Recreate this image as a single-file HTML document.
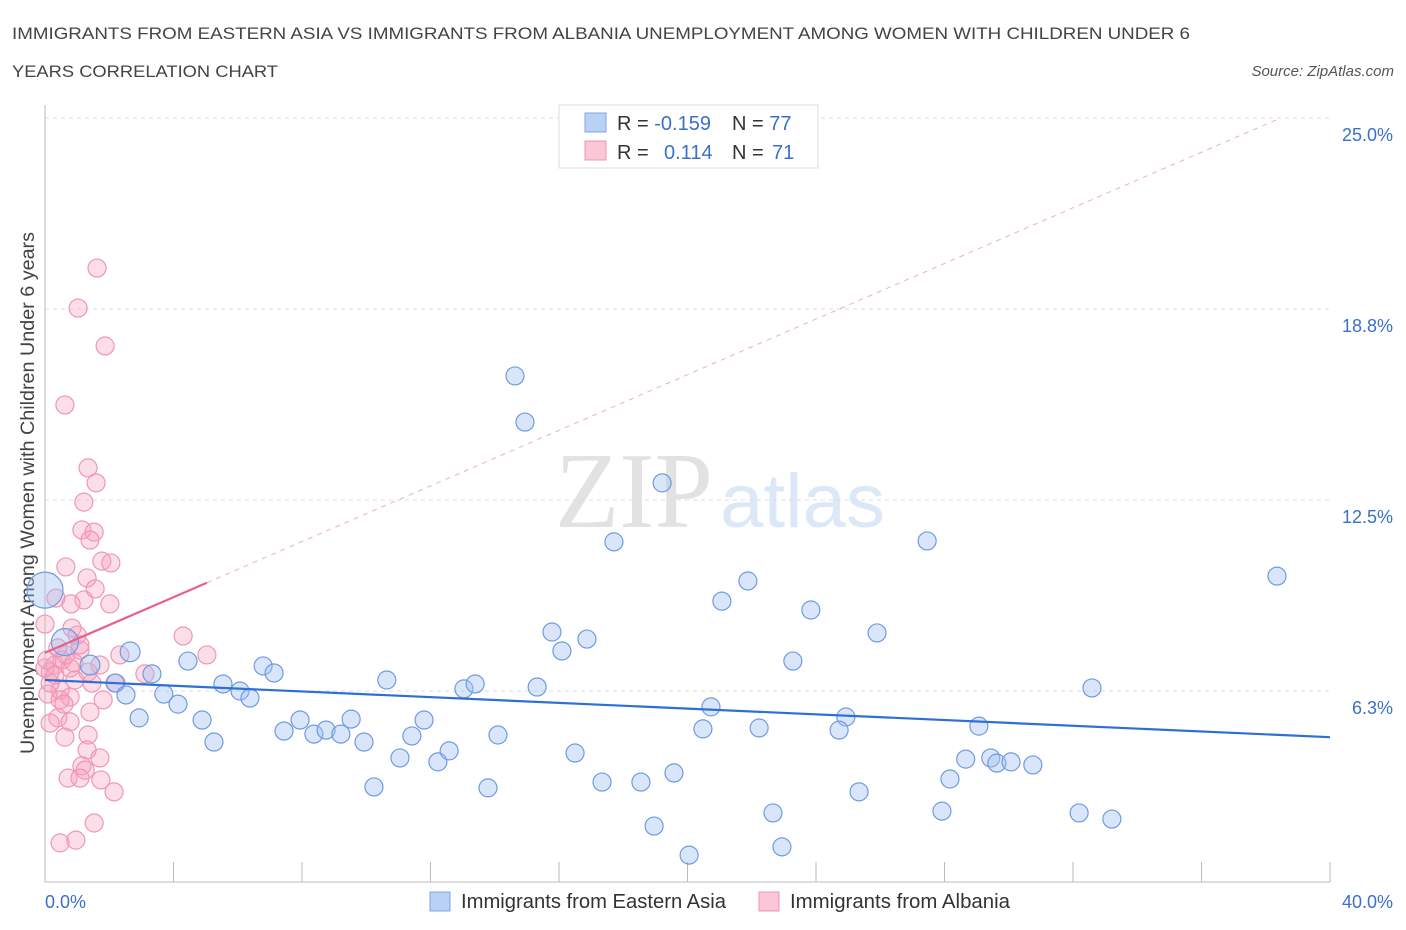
<!DOCTYPE html>
<html><head><meta charset="utf-8"><style>
body{margin:0;background:#fff;font-family:"Liberation Sans",sans-serif;}
#wrap{position:relative;width:1406px;height:930px;overflow:hidden;}
</style></head><body>
<div id="wrap">
<svg id="svg" width="1406" height="930" xmlns="http://www.w3.org/2000/svg">
<text x="12" y="39" font-size="17" fill="#444" textLength="1178" lengthAdjust="spacingAndGlyphs">IMMIGRANTS FROM EASTERN ASIA VS IMMIGRANTS FROM ALBANIA UNEMPLOYMENT AMONG WOMEN WITH CHILDREN UNDER 6</text>
<text x="12" y="77" font-size="17" fill="#444" textLength="266" lengthAdjust="spacingAndGlyphs">YEARS CORRELATION CHART</text>
<text x="1394" y="76" font-size="15" fill="#555" font-style="italic" text-anchor="end">Source: ZipAtlas.com</text>
<text x="555" y="527" font-size="108" fill="#e2e2e2" font-family="Liberation Serif,serif" textLength="158" lengthAdjust="spacingAndGlyphs">ZIP</text>
<text x="720" y="527" font-size="76" fill="#dce8f7" textLength="165" lengthAdjust="spacingAndGlyphs">atlas</text>
<text transform="translate(34,493) rotate(-90)" font-size="19" fill="#444" text-anchor="middle" textLength="522" lengthAdjust="spacingAndGlyphs">Unemployment Among Women with Children Under 6 years</text>
<g id="grid"></g><g id="pts"></g><g id="lines"></g>
<g>
<rect x="559" y="105" width="259" height="63" fill="#fff" stroke="#ddd"/>
<rect x="585" y="113" width="21" height="19" fill="#b8d1f5" stroke="#7fa6e6"/>
<rect x="585" y="141" width="21" height="19" fill="#fbc6d6" stroke="#ef94b2"/>
<text x="617" y="130" font-size="20" fill="#333">R = <tspan fill="#3a70c8">-0.159</tspan></text>
<text x="732" y="130" font-size="20" fill="#333">N = <tspan fill="#3a70c8">77</tspan></text>
<text x="617" y="159" font-size="20" fill="#333">R = <tspan fill="#3a70c8" x="664">0.114</tspan></text>
<text x="732" y="159" font-size="20" fill="#333">N = <tspan fill="#3a70c8" x="772">71</tspan></text>
</g>
<g>
<rect x="430" y="892" width="20" height="19" fill="#b8d1f5" stroke="#7fa6e6"/>
<text x="461" y="908" font-size="20" fill="#333" textLength="265" lengthAdjust="spacingAndGlyphs">Immigrants from Eastern Asia</text>
<rect x="759" y="892" width="20" height="19" fill="#fbc6d6" stroke="#ef94b2"/>
<text x="790" y="908" font-size="20" fill="#333" textLength="220" lengthAdjust="spacingAndGlyphs">Immigrants from Albania</text>
</g>
<text x="45" y="908" font-size="18" fill="#3a70c8">0.0%</text>
<text x="1393" y="908" font-size="18" fill="#3a70c8" text-anchor="end">40.0%</text>
</svg>
</div>
<script>
const yTicks=[6.25,12.5,18.75,25];
const yTickLabels=["6.3%","12.5%","18.8%","25.0%"];
const xTicks=[0,4,8,12,16,20,24,28,32,36,40];
const blueX=[14.63,14.94,19.21,17.71,27.46,38.35,21.88,21.07,23.84,25.90,15.78,16.87,16.09,23.28,0,0.62,2.65,1.40,4.45,3.33,6.79,7.13,2.18,2.52,5.54,6.07,6.38,3.70,4.14,2.93,4.89,5.26,7.44,7.94,8.37,8.75,9.21,9.53,9.93,10.64,10.24,11.05,11.42,11.80,12.23,12.58,13.04,13.39,14.10,13.79,15.32,16.50,17.34,18.55,18.96,19.58,20.05,20.73,20.48,22.23,22.66,22.94,24.93,24.72,25.34,27.92,28.17,28.66,29.07,29.44,29.63,30.07,30.75,32.59,32.19,33.21];
const blueY=[16.56,15.05,13.06,11.13,11.16,10.01,9.85,9.19,8.90,8.15,8.18,7.95,7.56,7.23,9.55,7.85,7.53,7.10,7.23,6.81,7.07,6.84,6.51,6.12,6.48,6.25,6.02,6.15,5.82,5.37,5.30,4.58,4.94,5.30,4.84,4.97,4.84,5.33,4.58,6.61,3.11,4.06,4.78,5.30,3.93,4.29,6.32,6.48,4.81,3.08,6.38,4.22,3.27,3.27,1.83,3.57,0.88,5.73,5.01,5.04,2.26,1.15,5.40,4.97,2.95,2.32,3.37,4.02,5.10,4.06,3.89,3.93,3.83,6.35,2.26,2.06];
const blueSize=[1,1,1,1,1,1,1,1,1,1,1,1,1,1,2,1.5,1.1,1.1,1,1,1,1,1,1,1,1,1,1,1,1,1,1,1,1,1,1,1,1,1,1,1,1,1,1,1,1,1,1,1,1,1,1,1,1,1,1,1,1,1,1,1,1,1,1,1,1,1,1,1,1,1,1,1,1,1,1];
const pinkX=[1.62,1.03,1.87,0.62,1.34,1.59,1.21,1.15,1.53,1.40,0.65,1.77,2.05,1.31,0.34,1.56,1.21,2.02,0.81,0,0.84,1.00,4.30,2.33,5.04,3.11,1.09,0.53,0.31,0.78,0.16,1.34,0.93,0.47,1.46,2.21,0.16,0.09,0.78,1.81,0.47,1.40,0.40,0.78,0.16,0.62,1.34,1.31,1.71,1.15,1.25,0.72,1.09,1.74,2.15,1.53,0.47,0.96,0,0.06,0.31,0.65,0.90,0.40,1.09,1.71,0.59];
const pinkY=[20.09,18.78,17.54,15.61,13.55,13.06,12.43,11.52,11.45,11.19,10.31,10.50,10.44,9.95,9.29,9.59,9.23,9.10,9.10,8.44,8.31,8.08,8.05,7.43,7.43,6.81,7.59,7.26,7.10,7.00,6.87,6.87,6.61,6.28,6.51,6.51,6.51,6.15,6.05,5.96,5.96,5.56,5.37,5.24,5.20,4.74,4.81,4.32,4.06,3.80,3.66,3.40,3.40,3.34,2.95,1.93,1.28,1.37,7.00,7.26,6.77,7.43,7.17,7.66,7.76,7.10,5.82];
const blueFit=[6.61,-0.0468];
const pinkFit=[7.5,0.455];
const X=v=>45+v*32.125, Y=v=>882-v*30.56;
const NS="http://www.w3.org/2000/svg";
const mk=(t,a,p)=>{const e=document.createElementNS(NS,t);for(const k in a)e.setAttribute(k,a[k]);p.appendChild(e);return e;};
const grid=document.getElementById('grid');
yTicks.forEach((v,i)=>{
 const l=mk('line',{x1:45,x2:1330,y1:Y(v),y2:Y(v),stroke:'#ddd','stroke-dasharray':'4,4'},grid);
 
 
 const t=mk('text',{x:1393,y:Y(v)+23,'font-size':18,fill:'#3a70c8','text-anchor':'end'},grid);
 t.textContent=yTickLabels[i];
 
 
});
const ax=mk('line',{x1:45,x2:1330,y1:882,y2:882,stroke:'#bbb'},grid);


const ay=mk('line',{x1:45,x2:45,y1:105,y2:882,stroke:'#bbb'},grid);


xTicks.forEach(v=>{
 const t=mk('line',{x1:X(v),x2:X(v),y1:882,y2:862,stroke:'#bbb'},grid);
 
 
});
const pts=document.getElementById('pts');
pinkX.forEach((x,i)=>{
 const c=mk('circle',{cx:X(x),cy:Y(pinkY[i]),r:9,fill:'rgba(246,160,190,0.35)',stroke:'#ee97b4','stroke-width':1.2},pts);
 
 
});
blueX.forEach((x,i)=>{
 const c=mk('circle',{cx:X(x),cy:Y(blueY[i]),r:9*blueSize[i],fill:'rgba(160,192,240,0.4)',stroke:'#6f9be0','stroke-width':1.2},pts);
 
 
});
const lines=document.getElementById('lines');
const bl=mk('line',{x1:X(0),y1:Y(blueFit[0]),x2:X(40),y2:Y(blueFit[0]+blueFit[1]*40),stroke:'#2e6fd6','stroke-width':2.2},lines);


const xe=(25-pinkFit[0])/pinkFit[1];
const pd=mk('line',{x1:X(5.04),y1:Y(pinkFit[0]+pinkFit[1]*5.04),x2:X(xe),y2:Y(25),stroke:'#eab0c3','stroke-width':1,'stroke-dasharray':'5,5'},lines);


const pl=mk('line',{x1:X(0),y1:Y(pinkFit[0]),x2:X(5.04),y2:Y(pinkFit[0]+pinkFit[1]*5.04),stroke:'#e5608c','stroke-width':2.2},lines);


</script>
</body></html>
